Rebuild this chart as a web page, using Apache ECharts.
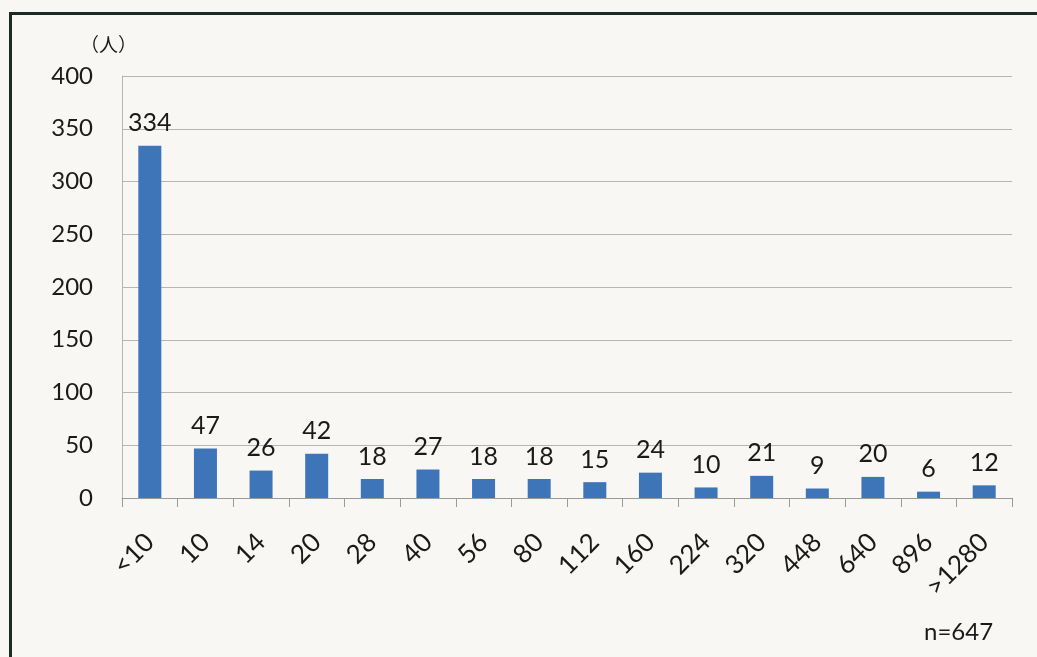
<!DOCTYPE html>
<html>
<head>
<meta charset="utf-8">
<script src="https://cdn.jsdelivr.net/npm/echarts@6/dist/echarts.min.js"></script>
<style>
  html, body { margin: 0; padding: 0; background: #f8f7f3; }
  #chart { width: 1037px; height: 657px; }
</style>
</head>
<body>
<div id="chart"></div>
<script>
const categories = ['<10', '10', '14', '20', '28', '40', '56', '80', '112', '160', '224', '320', '448', '640', '896', '>1280']
const counts = [334, 47, 26, 42, 18, 27, 18, 18, 15, 24, 10, 21, 9, 20, 6, 12]
const yTicks = { min: 0, max: 400, interval: 50 }

const font = 'Lato, "Open Sans", sans-serif'
const myChart = echarts.init(document.getElementById('chart'))

myChart.setOption({
  backgroundColor: '#f8f7f3',
  animation: false,
  grid: { left: 122, right: 25, top: 76, bottom: 159 },
  xAxis: {
    type: 'category',
    data: categories,
    axisLine: { lineStyle: { color: '#9a9a9a', width: 1 } },
    axisTick: { show: true, length: 9, lineStyle: { color: '#9a9a9a' } },
    axisLabel: {
      rotate: 45,
      margin: 40,
      color: '#1a1a1a',
      fontSize: 26,
      fontFamily: font,
      padding: [0, 0, 0, 0]
    }
  },
  yAxis: {
    type: 'value',
    min: yTicks.min,
    max: yTicks.max,
    interval: yTicks.interval,
    axisLine: { show: true, lineStyle: { color: '#b5b5b5' } },
    axisTick: { show: false },
    splitLine: { lineStyle: { color: '#b5b5b5', width: 1 } },
    axisLabel: {
      margin: 29,
      color: '#1a1a1a',
      fontSize: 24,
      fontFamily: font
    }
  },
  series: [{
    type: 'bar',
    data: counts,
    barWidth: 23,
    itemStyle: { color: '#3e74b8' },
    label: {
      show: true,
      position: 'top',
      distance: 10,
      color: '#1a1a1a',
      fontSize: 25,
      fontFamily: font
    }
  }],
  graphic: [
    // scanned frame: top and left borders
    { type: 'rect', shape: { x: 9, y: 12, width: 1028, height: 3 }, style: { fill: '#1e2a26' } },
    { type: 'rect', shape: { x: 9, y: 12, width: 3, height: 645 }, style: { fill: '#1e2a26' } },
    { type: 'text', left: 80, top: 35, style: { text: '（人）', fontSize: 19, fill: '#1a1a1a', fontFamily: '"Noto Sans CJK JP", sans-serif' } },
    { type: 'text', left: 924, top: 620, style: { text: 'n=647', fontSize: 24, fill: '#1a1a1a', fontFamily: font } }
  ]
})
</script>
</body>
</html>
